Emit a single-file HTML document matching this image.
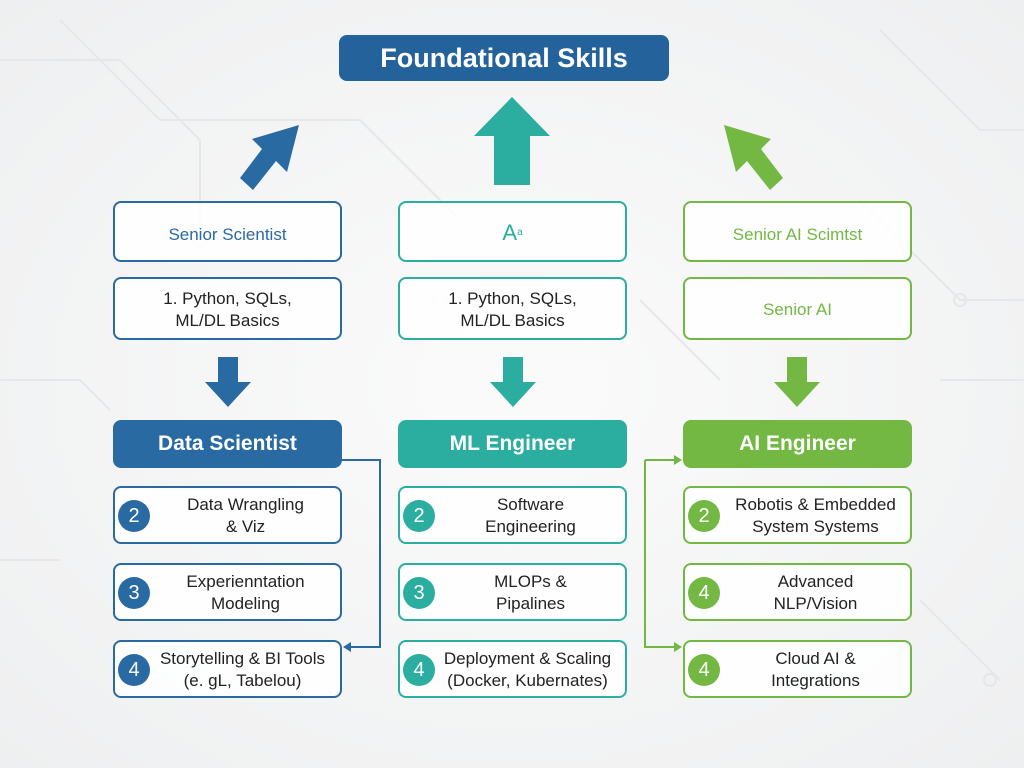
<!DOCTYPE html>
<html><head><meta charset="utf-8"><style>
body{margin:0;width:1024px;height:768px;background:radial-gradient(ellipse at center,#fbfbfb 0%,#eeeff0 100%);font-family:"Liberation Sans",sans-serif;position:relative;overflow:hidden}
.b{position:absolute;box-sizing:border-box;border:2px solid;border-radius:8px;background:rgba(255,255,255,.85);display:flex;align-items:center;justify-content:center;text-align:center;font-size:17px;line-height:22px;color:#222;padding-top:2px}
.h{position:absolute;box-sizing:border-box;border-radius:8px;color:#fff;font-weight:bold;font-size:21px;display:flex;align-items:center;justify-content:center}
.c{position:absolute;width:32px;height:32px;border-radius:50%;color:#fff;font-size:20px;display:flex;align-items:center;justify-content:center;left:3px;top:12px}
.t{padding-left:36px;width:100%;box-sizing:border-box}
.B{border-color:#2a6aa3}.T{border-color:#2bada0}.G{border-color:#72b843}
</style></head><body>
<svg style="position:absolute;left:0;top:0" width="1024" height="768">
<g stroke="#e4e8ea" stroke-width="2" fill="none">
<path d="M0 60 L120 60 L200 140 L200 230"/><path d="M60 20 L160 120 L360 120 L460 220"/><path d="M880 30 L980 130 L1024 130"/><path d="M860 200 L960 300 L1024 300"/><path d="M0 380 L80 380 L110 410"/><path d="M940 380 L1024 380"/><path d="M920 600 L1000 680"/><path d="M0 560 L60 560"/><path d="M640 300 L720 380"/>
<circle cx="200" cy="240" r="6"/><circle cx="960" cy="300" r="6"/><circle cx="990" cy="680" r="6"/><circle cx="440" cy="300" r="6"/>
</g>
<polygon points="299,125 287,172 276,161 253,190 240,178 262,149 252,139" fill="#2a6aa3"/>
<polygon points="512,97 550,136 530,136 530,185 494,185 494,136 474,136" fill="#2bada0"/>
<polygon points="724,125 771,139 761,149 783,178 770,190 747,161 736,172" fill="#72b843"/>
<polygon points="218,357 238,357 238,382 251,382 228,407 205,382 218,382" fill="#2a6aa3"/>
<polygon points="503,357 523,357 523,382 536,382 513,407 490,382 503,382" fill="#2bada0"/>
<polygon points="787,357 807,357 807,382 820,382 797,407 774,382 787,382" fill="#72b843"/>
<polyline points="342,460 380,460 380,647 348,647" stroke="#2a6aa3" stroke-width="2" fill="none"/>
<polygon points="343,647 351,642 351,652" fill="#2a6aa3"/>
<polyline points="645,460 677,460" stroke="#72b843" stroke-width="2" fill="none"/>
<polygon points="682,460 674,455 674,465" fill="#72b843"/>
<polyline points="645,460 645,647 677,647" stroke="#72b843" stroke-width="2" fill="none"/>
<polygon points="682,647 674,642 674,652" fill="#72b843"/>
</svg>
<div class="h" style="left:339px;top:35px;width:330px;height:46px;background:#24629c;font-size:27px;font-weight:bold">Foundational Skills</div>

<div class="b B" style="left:113px;top:201px;width:229px;height:61px;color:#2a6aa3;padding-top:6px">Senior Scientist</div>
<div class="b T" style="left:398px;top:201px;width:229px;height:61px;color:#2bada0;font-size:22px">A<span style="font-size:10px">a</span></div>
<div class="b G" style="left:683px;top:201px;width:229px;height:61px;color:#72b843;padding-top:6px">Senior AI Scimtst</div>
<div class="b B" style="left:113px;top:277px;width:229px;height:63px">1. Python, SQLs,<br>ML/DL Basics</div>
<div class="b T" style="left:398px;top:277px;width:229px;height:63px">1. Python, SQLs,<br>ML/DL Basics</div>
<div class="b G" style="left:683px;top:277px;width:229px;height:63px;color:#72b843">Senior AI</div>

<div class="h" style="left:113px;top:420px;width:229px;height:48px;background:#2a6aa3">Data Scientist</div>
<div class="h" style="left:398px;top:420px;width:229px;height:48px;background:#2bada0">ML Engineer</div>
<div class="h" style="left:683px;top:420px;width:229px;height:48px;background:#72b843">AI Engineer</div>

<div class="b B" style="left:113px;top:486px;width:229px;height:58px"><div class="c" style="background:#2a6aa3">2</div><div class="t">Data Wrangling<br>&amp; Viz</div></div>
<div class="b B" style="left:113px;top:563px;width:229px;height:58px"><div class="c" style="background:#2a6aa3">3</div><div class="t">Experienntation<br>Modeling</div></div>
<div class="b B" style="left:113px;top:640px;width:229px;height:58px"><div class="c" style="background:#2a6aa3">4</div><div class="t" style="padding-left:30px">Storytelling &amp; BI Tools<br>(e. gL, Tabelou)</div></div>

<div class="b T" style="left:398px;top:486px;width:229px;height:58px"><div class="c" style="background:#2bada0">2</div><div class="t">Software<br>Engineering</div></div>
<div class="b T" style="left:398px;top:563px;width:229px;height:58px"><div class="c" style="background:#2bada0">3</div><div class="t">MLOPs &amp;<br>Pipalines</div></div>
<div class="b T" style="left:398px;top:640px;width:229px;height:58px"><div class="c" style="background:#2bada0">4</div><div class="t" style="padding-left:30px">Deployment &amp; Scaling<br>(Docker, Kubernates)</div></div>

<div class="b G" style="left:683px;top:486px;width:229px;height:58px"><div class="c" style="background:#72b843">2</div><div class="t">Robotis &amp; Embedded<br>System Systems</div></div>
<div class="b G" style="left:683px;top:563px;width:229px;height:58px"><div class="c" style="background:#72b843">4</div><div class="t">Advanced<br>NLP/Vision</div></div>
<div class="b G" style="left:683px;top:640px;width:229px;height:58px"><div class="c" style="background:#72b843">4</div><div class="t">Cloud AI &amp;<br>Integrations</div></div>
</body></html>
